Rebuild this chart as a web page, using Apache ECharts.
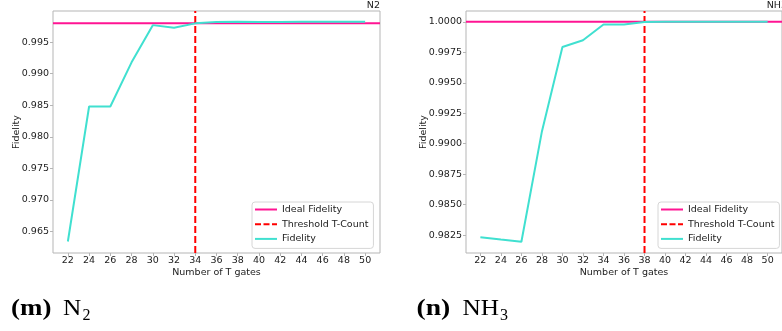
<!DOCTYPE html>
<html>
<head>
<meta charset="utf-8">
<script src="https://cdn.jsdelivr.net/npm/echarts@6/dist/echarts.min.js"></script>
<style>
html,body{margin:0;padding:0;background:#fff;}
#c{width:782px;height:331px;}
</style>
</head>
<body>
<div id="c"></div>
<script>
// ---- data ----
const tCounts = [22, 24, 26, 28, 30, 32, 34, 36, 38, 40, 42, 44, 46, 48, 50];
const xTickValues = [22, 24, 26, 28, 30, 32, 34, 36, 38, 40, 42, 44, 46, 48, 50];
const xRange = [20.6, 51.4];

const n2Fidelity = [0.9634, 0.9848, 0.9848, 0.9918, 0.99770, 0.99730, 0.99798, 0.99818, 0.99823, 0.99820, 0.99821, 0.99822, 0.99822, 0.99822, 0.99822];
const n2Ideal = 0.9980;
const n2Threshold = 34;
const n2YRange = [0.96158, 0.99994];
const n2YTicks = [0.965, 0.970, 0.975, 0.980, 0.985, 0.990, 0.995];

const nh3Fidelity = [0.98232, 0.98213, 0.98195, 0.99101, 0.99794, 0.99849, 0.99978, 0.99979, 0.99999, 1.0, 1.0, 1.0, 1.0, 1.0, 1.0];
const nh3Ideal = 1.0;
const nh3Threshold = 38;
const nh3YRange = [0.98103, 1.00089];
const nh3YTicks = [0.9825, 0.9850, 0.9875, 0.9900, 0.9925, 0.9950, 0.9975, 1.0000];

const panelTitles = ['N2', 'NH3'];
const legendNames = ['Ideal Fidelity', 'Threshold T-Count', 'Fidelity'];

// ---- styling ----
const FONT = 'DejaVu Sans';
const TXT = '#222';
const SPINE = '#b5b5b5';
const PINK = '#ff1493';
const RED = '#ff0000';
const CYAN = '#40e0d0';
const ICON_SOLID = 'path://M0,0H22V2H0Z';
const ICON_DASH = 'path://M0,0H6V2H0Z M8.5,0H14.5V2H8.5Z M17,0H22V2H17Z';

const grids = [
  {left: 53, top: 11, width: 327, height: 242},
  {left: 466, top: 11, width: 321, height: 242}
];

function xAxisFor(i) {
  return {
    gridIndex: i, type: 'value', min: xRange[0], max: xRange[1],
    name: 'Number of T gates', nameLocation: 'middle', nameGap: 14.5, nameMoveOverlap: false,
    nameTextStyle: {fontFamily: FONT, fontSize: 9.5, color: TXT},
    axisLine: {show: false},
    splitLine: {show: false},
    axisTick: {show: true, length: 3, lineStyle: {color: SPINE}, customValues: xTickValues},
    axisLabel: {fontFamily: FONT, fontSize: 9.5, color: TXT, margin: 3, customValues: xTickValues,
      formatter: v => String(v)}
  };
}
function yAxisFor(i, range, ticks, dec) {
  return {
    gridIndex: i, type: 'value', min: range[0], max: range[1],
    name: 'Fidelity', nameLocation: 'middle', nameRotate: 90, nameGap: dec === 3 ? 31 : 37, nameMoveOverlap: false,
    nameTextStyle: {fontFamily: FONT, fontSize: 9.5, color: TXT},
    axisLine: {show: false},
    splitLine: {show: false},
    axisTick: {show: true, length: 3, lineStyle: {color: SPINE}, customValues: ticks},
    axisLabel: {fontFamily: FONT, fontSize: 9.5, color: TXT, margin: 4, customValues: ticks,
      formatter: v => Number(v).toFixed(dec)}
  };
}

function panelSeries(i, fid, ideal, thr, yRange) {
  return [
    {
      name: 'Ideal Fidelity', type: 'line', xAxisIndex: i, yAxisIndex: i,
      data: [[xRange[0], ideal], [xRange[1], ideal]],
      symbol: 'none', lineStyle: {color: PINK, width: 2}, itemStyle: {color: PINK}, z: 2
    },
    {
      name: 'Threshold T-Count', type: 'line', xAxisIndex: i, yAxisIndex: i,
      data: [[thr, yRange[0]], [thr, yRange[1]]],
      symbol: 'none', lineStyle: {color: RED, width: 2, type: [7, 3]}, itemStyle: {color: RED}, z: 3
    },
    {
      name: 'Fidelity', type: 'line', xAxisIndex: i, yAxisIndex: i,
      data: tCounts.map((t, k) => [t, fid[k]]),
      symbol: 'none', lineStyle: {color: CYAN, width: 2}, itemStyle: {color: CYAN}, z: 4
    }
  ];
}

function legendFor(left) {
  return {
    data: [
      {name: legendNames[0], icon: ICON_SOLID},
      {name: legendNames[1], icon: ICON_DASH},
      {name: legendNames[2], icon: ICON_SOLID}
    ],
    orient: 'vertical', left: left, top: 202,
    itemWidth: 22, itemHeight: 2, itemGap: 3.7,
    padding: [2, 5, 4, 3],
    borderColor: '#d6d6d6', borderWidth: 1, borderRadius: 3,
    backgroundColor: 'rgba(255,255,255,0.85)',
    selectedMode: false, z: 10,
    textStyle: {fontFamily: FONT, fontSize: 9.5, color: TXT, lineHeight: 11}
  };
}

const chart = echarts.init(document.getElementById('c'), null, {renderer: 'canvas'});
chart.setOption({
  animation: false,
  backgroundColor: '#fff',
  grid: grids.map(g => Object.assign({show: true, borderColor: SPINE, borderWidth: 1, backgroundColor: '#fff', containLabel: false}, g)),
  xAxis: [xAxisFor(0), xAxisFor(1)],
  yAxis: [
    yAxisFor(0, n2YRange, n2YTicks, 3),
    yAxisFor(1, nh3YRange, nh3YTicks, 4)
  ],
  legend: [legendFor(252), legendFor(658)],
  series: [].concat(
    panelSeries(0, n2Fidelity, n2Ideal, n2Threshold, n2YRange),
    panelSeries(1, nh3Fidelity, nh3Ideal, nh3Threshold, nh3YRange)
  ),
  graphic: [
    {type: 'text', x: 380, y: 6, style: {text: panelTitles[0], fontFamily: FONT, fontSize: 9.5, fill: TXT, align: 'right', verticalAlign: 'middle'}},
    {type: 'text', x: 787, y: 6, style: {text: panelTitles[1], fontFamily: FONT, fontSize: 9.5, fill: TXT, align: 'right', verticalAlign: 'middle'}},
    // captions
    {type: 'text', x: 11, y: 309, scaleX: 1.17, style: {text: '(m)', font: 'bold 23px "Liberation Serif"', fill: '#000', align: 'left', verticalAlign: 'middle'}},
    {type: 'text', x: 63, y: 309, scaleX: 1.1, style: {text: 'N', font: '23px "Liberation Serif"', fill: '#000', align: 'left', verticalAlign: 'middle'}},
    {type: 'text', x: 82.5, y: 315.5, style: {text: '2', font: '16px "Liberation Serif"', fill: '#000', align: 'left', verticalAlign: 'middle'}},
    {type: 'text', x: 416.5, y: 309, scaleX: 1.2, style: {text: '(n)', font: 'bold 23px "Liberation Serif"', fill: '#000', align: 'left', verticalAlign: 'middle'}},
    {type: 'text', x: 462.5, y: 309, scaleX: 1.1, style: {text: 'NH', font: '23px "Liberation Serif"', fill: '#000', align: 'left', verticalAlign: 'middle'}},
    {type: 'text', x: 500, y: 315.5, style: {text: '3', font: '16px "Liberation Serif"', fill: '#000', align: 'left', verticalAlign: 'middle'}}
  ]
});
</script>
</body>
</html>
